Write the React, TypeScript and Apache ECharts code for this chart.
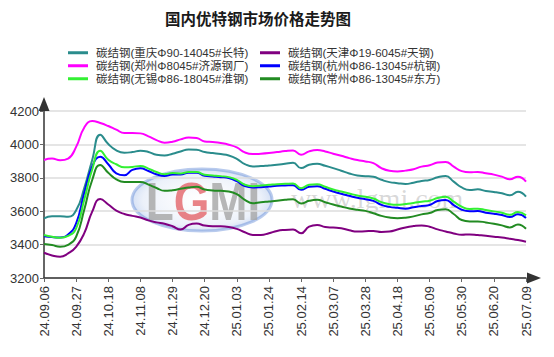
import React, { useEffect, useRef } from "react";
import * as echarts from "echarts";

const categories = [
  "24.09.06", "24.09.11", "24.09.16", "24.09.23",
  "24.09.27", "24.10.09", "24.10.12", "24.10.15",
  "24.10.18", "24.10.23", "24.10.28", "24.11.04",
  "24.11.08", "24.11.13", "24.11.19", "24.11.25",
  "24.11.29", "24.12.04", "24.12.09", "24.12.16",
  "24.12.20", "24.12.24", "24.12.27", "24.12.31",
  "25.01.03", "25.01.08", "25.01.14", "25.01.20",
  "25.01.24", "25.02.06", "25.02.10", "25.02.12",
  "25.02.14", "25.02.19", "25.02.25", "25.03.03",
  "25.03.07", "25.03.12", "25.03.18", "25.03.24",
  "25.03.28", "25.04.02", "25.04.09", "25.04.15",
  "25.04.18", "25.04.23", "25.04.28", "25.05.06",
  "25.05.09", "25.05.14", "25.05.20", "25.05.26",
  "25.05.30", "25.06.05", "25.06.11", "25.06.17",
  "25.06.20", "25.06.25", "25.06.30", "25.07.04",
  "25.07.09",
];

const chongqing = [
  3557, 3570, 3570, 3567, 3605, 3737, 3907, 4058, 4002, 3964, 3950, 3954, 3962, 3955, 3938, 3934,
  3944, 3958, 3970, 3968, 3954, 3948, 3942, 3934, 3914, 3882, 3868, 3870, 3874, 3878, 3884, 3890,
  3858, 3878, 3884, 3872, 3858, 3842, 3826, 3814, 3810, 3806, 3788, 3774, 3768, 3763, 3771, 3781,
  3787, 3803, 3811, 3777, 3742, 3727, 3731, 3721, 3715, 3707, 3695, 3717, 3687,
];
const tianjin = [
  3351, 3335, 3327, 3347, 3387, 3467, 3597, 3673, 3640, 3603, 3583, 3572, 3562, 3545, 3533, 3525,
  3510, 3490, 3518, 3526, 3514, 3510, 3510, 3506, 3494, 3474, 3458, 3458, 3468, 3482, 3488, 3490,
  3468, 3508, 3518, 3506, 3502, 3498, 3486, 3478, 3480, 3482, 3476, 3478, 3490, 3503, 3511, 3515,
  3507, 3491, 3479, 3467, 3459, 3461, 3457, 3453, 3447, 3443, 3435, 3427, 3417,
];
const zhengzhou = [
  3907, 3915, 3905, 3915, 3985, 4100, 4140, 4128, 4110, 4088, 4068, 4068, 4066, 4048, 4026, 4010,
  4016, 4030, 4042, 4038, 4018, 4014, 4008, 3998, 3982, 3952, 3942, 3944, 3948, 3954, 3960, 3964,
  3938, 3958, 3966, 3958, 3944, 3932, 3918, 3906, 3898, 3888, 3858, 3842, 3838, 3843, 3851, 3867,
  3875, 3891, 3895, 3867, 3840, 3833, 3835, 3827, 3819, 3807, 3791, 3807, 3777,
];
const hangzhou = [
  3450, 3445, 3443, 3460, 3527, 3707, 3867, 3926, 3881, 3827, 3815, 3847, 3857, 3841, 3821, 3811,
  3820, 3820, 3830, 3830, 3812, 3808, 3804, 3798, 3780, 3750, 3742, 3744, 3748, 3752, 3754, 3756,
  3728, 3746, 3750, 3734, 3718, 3704, 3692, 3680, 3672, 3662, 3638, 3626, 3620, 3615, 3623, 3631,
  3637, 3661, 3667, 3637, 3609, 3599, 3601, 3591, 3585, 3577, 3565, 3581, 3559,
];
const wuxi = [
  3457, 3447, 3441, 3452, 3497, 3667, 3850, 3962, 3908, 3881, 3863, 3865, 3871, 3855, 3835, 3822,
  3828, 3826, 3834, 3834, 3818, 3814, 3810, 3804, 3788, 3758, 3750, 3754, 3758, 3762, 3764, 3766,
  3738, 3758, 3762, 3746, 3730, 3718, 3706, 3694, 3686, 3676, 3654, 3642, 3638, 3643, 3649, 3657,
  3663, 3679, 3687, 3657, 3627, 3613, 3615, 3607, 3599, 3591, 3579, 3595, 3575,
];
const changzhou = [
  3403, 3397, 3387, 3399, 3447, 3607, 3787, 3877, 3830, 3791, 3775, 3775, 3775, 3759, 3739, 3722,
  3726, 3734, 3742, 3746, 3730, 3724, 3722, 3718, 3702, 3668, 3648, 3654, 3658, 3662, 3668, 3672,
  3646, 3662, 3668, 3654, 3640, 3628, 3616, 3608, 3602, 3588, 3572, 3562, 3558, 3561, 3569, 3581,
  3589, 3607, 3611, 3583, 3547, 3539, 3539, 3533, 3525, 3515, 3503, 3521, 3495,
];

const seriesNames = [
  "碳结钢(重庆Φ90-14045#长特)",
  "碳结钢(天津Φ19-6045#天钢)",
  "碳结钢(郑州Φ8045#济源钢厂)",
  "碳结钢(杭州Φ86-13045#杭钢)",
  "碳结钢(无锡Φ86-18045#淮钢)",
  "碳结钢(常州Φ86-13045#东方)",
];
const seriesColors = ["#2a8c8c", "#800080", "#ff00ff", "#0000ff", "#33f033", "#228b22"];
const seriesData = [chongqing, tianjin, zhengzhou, hangzhou, wuxi, changzhou];

const titleText = "国内优特钢市场价格走势图";
const FONT = "'Liberation Sans', 'Noto Sans CJK SC', sans-serif";

const legendBase = {
  orient: "vertical",
  top: 42,
  icon: "rect",
  itemWidth: 20,
  itemHeight: 3,
  itemGap: 1.5,
  textStyle: { fontSize: 11.5, color: "#333", fontFamily: FONT, padding: [0, 0, 0, 3] },
};

export default function App() {
  const ref = useRef<HTMLDivElement>(null);
  useEffect(() => {
    if (!ref.current) return;
    const chart = echarts.init(ref.current, null, { renderer: "svg" });
    const option: any = {
      animation: false,
      backgroundColor: "#ffffff",
      title: {
        text: titleText,
        left: 160,
        top: 5,
        textStyle: { fontSize: 15.5, fontWeight: "bold", color: "#1a1a1a", fontFamily: "'Noto Sans CJK SC', sans-serif" },
      },
      legend: [
        { ...legendBase, left: 63, data: [seriesNames[0], seriesNames[2], seriesNames[4]] },
        { ...legendBase, left: 255, data: [seriesNames[1], seriesNames[3], seriesNames[5]] },
      ],
      grid: { left: 44, right: 28, top: 111, bottom: 79, containLabel: false },
      xAxis: {
        type: "category",
        data: categories,
        boundaryGap: false,
        axisLine: {
          lineStyle: { color: "#333", width: 1.5 },
          symbol: ["none", "triangle"],
          symbolSize: [11, 14],
          symbolOffset: [0, 8],
        },
        axisTick: { show: true, interval: 3, length: 4, lineStyle: { color: "#666" } },
        axisLabel: {
          interval: 3,
          rotate: 90,
          fontSize: 13,
          color: "#333",
          margin: 8,
          fontFamily: FONT,
        },
        splitLine: { show: false },
      },
      yAxis: {
        type: "value",
        min: 3200,
        max: 4200,
        interval: 200,
        axisLine: {
          show: true,
          lineStyle: { color: "#333", width: 1.5 },
          symbol: ["none", "triangle"],
          symbolSize: [11, 14],
          symbolOffset: [0, 7],
        },
        axisTick: { show: true, length: 4, lineStyle: { color: "#666" } },
        axisLabel: {
          fontSize: 13,
          color: "#333",
          margin: 5,
          fontFamily: FONT,
          formatter: (v: number) => String(v),
        },
        splitLine: { show: true, lineStyle: { color: "#dddddd", width: 1.5 } },
      },
      graphic: [
        {
          type: "ellipse",
          z: 0,
          silent: true,
          shape: { cx: 202, cy: 200, rx: 70, ry: 31 },
          style: {
            fill: new echarts.graphic.RadialGradient(0.5, 0.5, 0.6, [
              { offset: 0, color: "rgba(255,255,255,0.2)" },
              { offset: 0.7, color: "rgba(200,215,240,0.35)" },
              { offset: 1, color: "rgba(110,150,220,0.55)" },
            ]),
            stroke: "rgba(100,140,215,0.45)",
            lineWidth: 3,
          },
        },
        {
          type: "text",
          z: 0,
          silent: true,
          x: 203,
          y: 202,
          scaleX: 0.85,
          style: {
            text: "{a|L}{b|G}{a|MI}",
            align: "center",
            verticalAlign: "middle",
            rich: {
              a: { fontSize: 54, fontWeight: "bold", fill: "rgba(165,165,165,0.8)", fontFamily: "'Liberation Sans', sans-serif" },
              b: { fontSize: 54, fontWeight: "bold", fill: "rgba(225,90,95,0.75)", fontFamily: "'Liberation Sans', sans-serif" },
            },
          },
        },
        {
          type: "text",
          z: 0,
          silent: true,
          x: 291,
          y: 198,
          style: {
            text: "www.lgmi.com",
            fontSize: 28,
            fontFamily: "'Liberation Serif', serif",
            fill: "rgba(170,170,170,0.45)",
            verticalAlign: "middle",
          },
        },
      ],
      series: seriesNames.map((name, i) => ({
        name,
        type: "line",
        data: seriesData[i],
        smooth: true,
        symbol: "none",
        showSymbol: false,
        lineStyle: { color: seriesColors[i], width: 2 },
        itemStyle: { color: seriesColors[i] },
        z: 3,
      })),
    };
    chart.setOption(option);
    return () => chart.dispose();
  }, []);
  return <div ref={ref} style={{ position: "fixed", left: 0, top: 0, width: 554, height: 357 }} />;
}
